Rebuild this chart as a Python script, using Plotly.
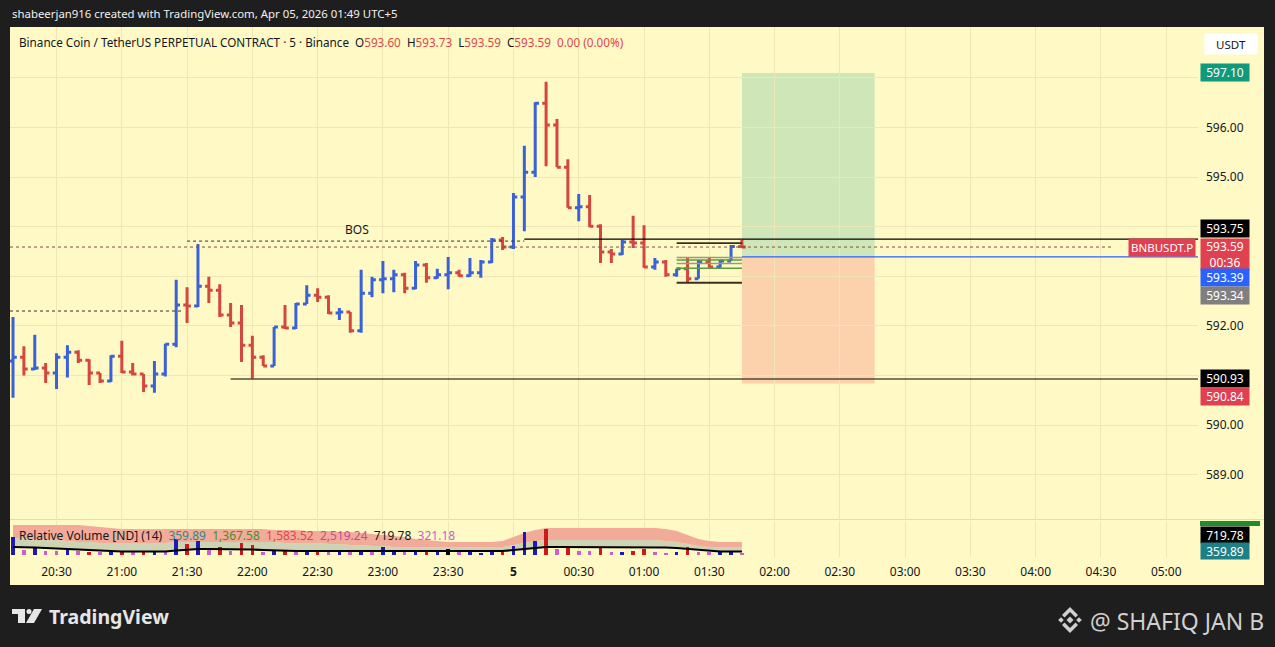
import plotly.graph_objects as go
import pandas as pd

# ---------------- data ----------------
bar_start = "2026-04-04 20:10"
n_bars = 68
times = pd.date_range(bar_start, periods=n_bars, freq="5min")

opens = [591.29, 591.37, 591.13, 591.15, 591.05, 591.37, 591.47, 591.31, 591.05, 590.89,
         591.39, 591.07, 591.03, 590.79, 591.03, 591.63, 592.42, 592.40, 592.80, 592.72,
         592.22, 592.06, 591.61, 591.37, 591.19, 591.98, 591.96, 592.44, 592.62, 592.58,
         592.26, 592.28, 591.90, 592.66, 592.93, 592.95, 593.03, 592.76, 593.23, 592.97,
         593.03, 593.07, 593.01, 593.07, 593.29, 593.73, 593.59, 594.60, 595.10, 596.49,
         596.05, 595.20, 594.38, 594.40, 594.01, 593.49, 593.45, 593.69, 593.67, 593.19,
         593.29, 593.03, 593.15, 592.95, 593.29, 593.19, 593.31, 593.60]
highs = [592.18, 591.59, 591.82, 591.25, 591.45, 591.61, 591.51, 591.33, 591.05, 591.41,
         591.70, 591.25, 591.03, 591.29, 591.64, 592.93, 592.78, 593.65, 592.99, 592.84,
         592.46, 592.42, 591.80, 591.41, 591.98, 592.42, 592.46, 592.82, 592.76, 592.62,
         592.36, 592.28, 593.13, 592.99, 593.31, 593.13, 593.07, 593.31, 593.27, 593.15,
         593.39, 593.13, 593.37, 593.33, 593.77, 593.79, 594.68, 595.63, 596.51, 596.92,
         596.17, 595.36, 594.66, 594.64, 594.05, 593.55, 593.73, 594.22, 594.03, 593.37,
         593.33, 593.15, 593.37, 593.33, 593.37, 593.33, 593.63, 593.73]
lows = [590.55, 591.00, 591.11, 590.85, 590.73, 590.96, 591.25, 590.81, 590.85, 590.87,
        591.05, 591.00, 590.67, 590.65, 590.98, 591.57, 592.06, 592.38, 592.46, 592.18,
        591.98, 591.27, 590.94, 591.19, 591.19, 591.94, 591.94, 592.44, 592.48, 592.24,
        592.12, 591.86, 591.86, 592.58, 592.66, 592.68, 592.66, 592.74, 592.87, 592.95,
        592.74, 592.99, 592.99, 592.97, 593.27, 593.53, 593.55, 593.91, 595.00, 595.22,
        595.20, 594.38, 594.11, 593.99, 593.27, 593.27, 593.43, 593.57, 593.17, 593.13,
        592.99, 592.99, 592.87, 592.95, 593.17, 593.17, 593.31, 593.59]
closes = [591.37, 591.13, 591.15, 591.05, 591.37, 591.47, 591.31, 591.05, 590.89, 591.39,
          591.07, 591.03, 590.79, 591.03, 591.63, 592.42, 592.40, 592.80, 592.72, 592.22,
          592.06, 591.61, 591.37, 591.19, 591.98, 591.96, 592.44, 592.62, 592.58, 592.26,
          592.28, 591.90, 592.66, 592.93, 592.95, 593.03, 592.76, 593.23, 592.97, 593.03,
          593.07, 593.01, 593.07, 593.29, 593.73, 593.59, 594.60, 595.10, 596.49, 596.05,
          595.20, 594.38, 594.40, 594.01, 593.49, 593.45, 593.69, 593.67, 593.19, 593.29,
          593.03, 593.15, 592.95, 593.29, 593.19, 593.31, 593.60, 593.59]

# Relative volume pane (estimated)
rel_volume = [720, 200, 280, 160, 160, 240, 160, 120, 120, 120,
              160, 120, 160, 160, 120, 640, 440, 560, 200, 320,
              160, 480, 400, 120, 160, 160, 120, 160, 200, 120,
              120, 120, 200, 120, 320, 160, 120, 160, 120, 160,
              240, 120, 120, 80, 160, 120, 360, 920, 560, 1040,
              240, 280, 160, 160, 280, 120, 120, 160, 240, 120,
              80, 120, 320, 120, 120, 160, 160, 80]
vol_class = ["b", "m", "b", "m", "m", "b", "m", "r", "m", "b",
             "r", "m", "r", "b", "m", "b", "r", "b", "m", "r",
             "m", "r", "r", "m", "b", "r", "m", "b", "r", "m",
             "b", "m", "b", "m", "b", "b", "m", "b", "r", "b",
             "k", "m", "b", "b", "b", "r", "b", "b", "b", "r",
             "m", "r", "m", "m", "r", "m", "b", "r", "r", "m",
             "m", "b", "r", "m", "m", "b", "b", "m"]
vol_avg = [320, 320, 300, 280, 260, 240, 200, 180, 160, 160,
           140, 140, 140, 140, 140, 180, 220, 240, 240, 240,
           240, 240, 220, 200, 180, 160, 160, 160, 160, 160,
           160, 160, 160, 160, 160, 160, 160, 160, 160, 160,
           160, 160, 160, 160, 160, 160, 200, 240, 280, 320,
           320, 320, 320, 320, 320, 320, 320, 320, 320, 320,
           300, 280, 240, 200, 160, 140, 140, 140]
vol_band1 = [680, 680, 640, 640, 600, 560, 520, 520, 480, 480,
             480, 480, 480, 480, 480, 520, 520, 520, 520, 520,
             520, 520, 520, 520, 520, 480, 480, 480, 480, 440,
             440, 400, 400, 360, 360, 320, 320, 320, 320, 320,
             320, 320, 320, 320, 320, 320, 400, 480, 560, 600,
             600, 600, 600, 600, 600, 600, 600, 600, 600, 600,
             560, 520, 440, 360, 320, 320, 320, 320]
vol_band2 = [1200, 1200, 1200, 1200, 1200, 1200, 1200, 1160, 1120, 1080,
             1040, 1040, 1040, 1040, 1040, 1040, 1040, 1040, 1040, 1040,
             1040, 1040, 1040, 1040, 1000, 1000, 1000, 960, 960, 960,
             920, 920, 880, 840, 800, 760, 720, 640, 600, 560,
             520, 520, 520, 520, 520, 560, 720, 880, 1000, 1080,
             1080, 1080, 1080, 1080, 1080, 1080, 1080, 1080, 1080, 1080,
             1040, 960, 800, 640, 560, 520, 520, 520]

# drawn levels
bos_level = 593.71
prev_high_level = 592.30
resist_level = 593.75
support_level = 590.93
entry_level = 593.39
target_level = 597.10
stop_level = 590.84
last_price = 593.59
range_box = [593.67, 592.87]
fib_levels = [593.38, 593.33, 593.26, 593.16]

price_ticks = [589, 590, 591, 592, 593, 594, 595, 596, 597]
price_tick_text = ["589.00", "590.00", "", "592.00", "", "", "595.00", "596.00", ""]
time_ticks = pd.date_range("2026-04-04 20:30", "2026-04-05 05:00", freq="30min")
time_tick_text = [("<b>5</b>" if (t.hour == 0 and t.minute == 0) else t.strftime("%H:%M")) for t in time_ticks]

x_range = [pd.Timestamp("2026-04-04 20:08:37"), pd.Timestamp("2026-04-05 05:14:36")]
y_range = [588.087, 598.026]
v_range = [-80, 1360]

# ---------------- styles ----------------
BG = "#fff9c6"
GRID = "#efe7b6"
DARK = "#1e1e1e"
BLUE = "#3a62d6"
RED = "#d4473f"
TXT = "#131722"
FONT = "Noto Sans"
W, H = 1275, 647
PX_L, PX_R, PX_T, PX_B = 10, 1198, 27, 557


def fx(px):
    return (px - PX_L) / (PX_R - PX_L)


def fy(py):
    return (PX_B - py) / (PX_B - PX_T)


def ppath(pts):
    return "M " + " L ".join(f"{fx(a):.5f} {fy(b):.5f}" for a, b in pts) + " Z"


up = [i == 0 or closes[i] >= closes[i - 1] for i in range(n_bars)]

fig = go.Figure()

for flag, col in ((True, BLUE), (False, RED)):
    idx = [i for i in range(n_bars) if up[i] == flag]
    fig.add_trace(go.Ohlc(
        x=[times[i] for i in idx],
        open=[opens[i] for i in idx], high=[highs[i] for i in idx],
        low=[lows[i] for i in idx], close=[closes[i] for i in idx],
        increasing=dict(line=dict(color=col, width=3)),
        decreasing=dict(line=dict(color=col, width=3)),
        tickwidth=0.35, xaxis="x", yaxis="y", showlegend=False, hoverinfo="skip"))

# volume bands (base subplot)
fig.add_trace(go.Scatter(x=times, y=vol_avg, mode="lines", line=dict(width=0, color="rgba(0,0,0,0)"),
                         xaxis="x", yaxis="y2", showlegend=False, hoverinfo="skip"))
fig.add_trace(go.Scatter(x=times, y=vol_band1, mode="lines", line=dict(width=0, color="rgba(0,0,0,0)"),
                         fill="tonexty", fillcolor="#cdd3b3", xaxis="x", yaxis="y2",
                         showlegend=False, hoverinfo="skip"))
fig.add_trace(go.Scatter(x=times, y=vol_band2, mode="lines", line=dict(width=0, color="rgba(0,0,0,0)"),
                         fill="tonexty", fillcolor="#f2ab98", xaxis="x", yaxis="y2",
                         showlegend=False, hoverinfo="skip"))

vcol = {"b": "#1a1ab8", "r": "#cc1a1a", "m": "#cc5fcc", "k": "#000000"}
fig.add_trace(go.Bar(x=times, y=rel_volume, marker=dict(color=[vcol[c] for c in vol_class], line=dict(width=0)),
                     width=100000, xaxis="x", yaxis="y3", showlegend=False, hoverinfo="skip"))
fig.add_trace(go.Scatter(x=times, y=vol_avg, mode="lines", line=dict(width=2.2, color="#000000"),
                         xaxis="x", yaxis="y3", showlegend=False, hoverinfo="skip"))

shapes = []
# panel background
shapes.append(dict(type="rect", xref="paper", yref="paper", x0=fx(10), x1=fx(1264), y0=fy(585), y1=fy(27),
                   fillcolor=BG, line=dict(width=0), layer="below"))
# pane separator
shapes.append(dict(type="line", xref="paper", yref="paper", x0=fx(10), x1=fx(1264), y0=fy(519.5), y1=fy(519.5),
                   line=dict(color="#e6dda6", width=1), layer="below"))

t_end = x_range[1]
t_entry = pd.Timestamp("2026-04-05 01:45")
t_box_end = pd.Timestamp("2026-04-05 02:46")
t_box0 = pd.Timestamp("2026-04-05 01:15")

# position tool
shapes.append(dict(type="rect", xref="x", yref="y", x0=t_entry, x1=t_box_end, y0=entry_level, y1=target_level,
                   fillcolor="rgba(8,153,129,0.2)", line=dict(width=0), layer="below"))
shapes.append(dict(type="rect", xref="x", yref="y", x0=t_entry, x1=t_box_end, y0=stop_level, y1=entry_level,
                   fillcolor="rgba(242,54,69,0.2)", line=dict(width=0), layer="below"))

# levels
shapes.append(dict(type="line", xref="x", yref="y", x0=x_range[0], x1=pd.Timestamp("2026-04-04 21:28"),
                   y0=prev_high_level, y1=prev_high_level, line=dict(color="#333333", width=1, dash="dot")))
shapes.append(dict(type="line", xref="x", yref="y", x0=pd.Timestamp("2026-04-04 21:30"), x1=pd.Timestamp("2026-04-05 00:05"),
                   y0=bos_level, y1=bos_level, line=dict(color="#333333", width=1, dash="dot")))
shapes.append(dict(type="line", xref="x", yref="y", x0=x_range[0], x1=pd.Timestamp("2026-04-05 04:35"),
                   y0=last_price, y1=last_price, line=dict(color="#7a5050", width=1, dash="dot")))
shapes.append(dict(type="line", xref="x", yref="y", x0=pd.Timestamp("2026-04-05 00:05"), x1=t_end,
                   y0=resist_level, y1=resist_level, line=dict(color="#000000", width=1.2)))
shapes.append(dict(type="line", xref="x", yref="y", x0=pd.Timestamp("2026-04-04 21:50"), x1=t_end,
                   y0=support_level, y1=support_level, line=dict(color="#000000", width=1.2)))
shapes.append(dict(type="line", xref="x", yref="y", x0=t_entry, x1=t_end,
                   y0=entry_level, y1=entry_level, line=dict(color="#2962ff", width=1.2)))
for lv in range_box:
    shapes.append(dict(type="line", xref="x", yref="y", x0=t_box0, x1=t_entry, y0=lv, y1=lv,
                       line=dict(color="#3a3020", width=1.8)))
for k, lv in enumerate(fib_levels):
    shapes.append(dict(type="line", xref="x", yref="y", x0=t_box0, x1=t_entry, y0=lv, y1=lv,
                       line=dict(color=("#5d9b3c" if k % 2 else "#8fa07a"), width=1.5)))

# volume axis green stub
shapes.append(dict(type="rect", xref="paper", yref="paper", x0=fx(1200), x1=fx(1260), y0=fy(526), y1=fy(521),
                   fillcolor="#1f8c2e", line=dict(width=0)))

# TradingView logo
LOGO = "#e6e6e6"
shapes.append(dict(type="path", xref="paper", yref="paper",
                   path=ppath([(12, 609), (25, 609), (25, 623), (18, 623), (18, 614), (12, 614)]),
                   fillcolor=LOGO, line=dict(width=0)))
shapes.append(dict(type="circle", xref="paper", yref="paper", x0=fx(26.5), x1=fx(31.5), y0=fy(614), y1=fy(609),
                   fillcolor=LOGO, line=dict(width=0)))
shapes.append(dict(type="path", xref="paper", yref="paper",
                   path=ppath([(34, 609), (42, 609), (34, 623), (26, 623)]),
                   fillcolor=LOGO, line=dict(width=0)))
# Binance icon
BN = "#d0d0d0"
cx, cy = 1070, 620


def diamond(x0, y0, r):
    return ppath([(x0, y0 - r), (x0 + r, y0), (x0, y0 + r), (x0 - r, y0)])


for (ddx, rr) in ((0, 3.5), (-9, 2.8), (9, 2.8)):
    shapes.append(dict(type="path", xref="paper", yref="paper", path=diamond(cx + ddx, cy, rr),
                       fillcolor=BN, line=dict(width=0)))
shapes.append(dict(type="path", xref="paper", yref="paper",
                   path=ppath([(cx, cy - 13), (cx + 8, cy - 5), (cx + 5.5, cy - 2.5), (cx, cy - 8), (cx - 5.5, cy - 2.5), (cx - 8, cy - 5)]),
                   fillcolor=BN, line=dict(width=0)))
shapes.append(dict(type="path", xref="paper", yref="paper",
                   path=ppath([(cx, cy + 13), (cx + 8, cy + 5), (cx + 5.5, cy + 2.5), (cx, cy + 8), (cx - 5.5, cy + 2.5), (cx - 8, cy + 5)]),
                   fillcolor=BN, line=dict(width=0)))

ann = []
# header
ann.append(dict(xref="paper", yref="paper", x=fx(10), y=fy(13), xanchor="left", yanchor="middle", showarrow=False,
                text="shabeerjan916 created with TradingView.com, Apr 05, 2026 01:49 UTC+5",
                font=dict(family=FONT, size=11.4, color="#f0f0f0")))
R = "#e0454b"
ann.append(dict(xref="paper", yref="paper", x=fx(17), y=fy(42), xanchor="left", yanchor="middle", showarrow=False,
                text=("Binance Coin / TetherUS PERPETUAL CONTRACT · 5 · Binance  "
                      f"O<span style='color:{R}'>593.60</span>  H<span style='color:{R}'>593.73</span>  "
                      f"L<span style='color:{R}'>593.59</span>  C<span style='color:{R}'>593.59</span>  "
                      f"<span style='color:{R}'>0.00 (0.00%)</span>"),
                font=dict(family=FONT, size=11.7, color=TXT)))
ann.append(dict(xref="x", yref="y", x=pd.Timestamp("2026-04-04 22:48"), y=bos_level, yshift=12, showarrow=False,
                text="BOS", font=dict(family=FONT, size=12, color=TXT)))
ann.append(dict(xref="paper", yref="paper", x=fx(17), y=fy(535), xanchor="left", yanchor="middle", showarrow=False,
                text=("Relative Volume [ND] (14)  <span style='color:#2a8a8a'>359.89</span>  "
                      "<span style='color:#4f8a2a'>1,367.58</span>  <span style='color:#e0454b'>1,583.52</span>  "
                      "<span style='color:#c8489c'>2,519.24</span>  <span style='color:#131722'>719.78</span>  "
                      "<span style='color:#c860c8'>321.18</span>"),
                font=dict(family=FONT, size=12, color=TXT)))


# axis labels
def plabel(price, text, bg, yshift=0, h=13, fc="#ffffff"):
    ann.append(dict(xref="paper", yref="y", x=fx(1200), y=price, yshift=yshift, xanchor="left", yanchor="middle",
                    showarrow=False, text=text, bgcolor=bg, width=44, height=h, borderpad=2, align="center",
                    font=dict(family=FONT, size=12, color=fc)))


plabel(target_level, "597.10", "#0f9a7c")
plabel(resist_level, "593.75", "#000000", yshift=11)
plabel(last_price, "593.59<br>00:36", "#e0404f", yshift=-7.5, h=27)
plabel(entry_level, "593.39", "#2962ff", yshift=-21)
plabel(593.34, "593.34", "#7f7f7f", yshift=-36)
plabel(support_level, "590.93", "#000000")
plabel(stop_level, "590.84", "#e0404f", yshift=-13.5)
ann.append(dict(xref="paper", yref="y", x=fx(1196), y=last_price, xanchor="right", yanchor="middle", showarrow=False,
                text="BNBUSDT.P", bgcolor="#e0404f", borderpad=2, height=13,
                font=dict(family=FONT, size=11.5, color="#ffffff")))
ann.append(dict(xref="paper", yref="paper", x=fx(1231), y=fy(44), xanchor="center", yanchor="middle", showarrow=False,
                text="USDT", bgcolor="#ffffff", width=50, height=18, borderpad=1,
                font=dict(family=FONT, size=11.5, color=TXT)))
for yy, txt, bg in ((535, "719.78", "#000000"), (551, "359.89", "#1f7f86")):
    ann.append(dict(xref="paper", yref="paper", x=fx(1200), y=fy(yy), xanchor="left", yanchor="middle",
                    showarrow=False, text=txt, bgcolor=bg, width=44, height=12, borderpad=2,
                    font=dict(family=FONT, size=12, color="#ffffff")))
# footer
ann.append(dict(xref="paper", yref="paper", x=fx(47), y=fy(616), xanchor="left", yanchor="middle", showarrow=False,
                text="<b>TradingView</b>", font=dict(family=FONT, size=19.5, color="#e6e6e6")))
ann.append(dict(xref="paper", yref="paper", x=fx(1266), y=fy(621), xanchor="right", yanchor="middle", showarrow=False,
                text="@ SHAFIQ JAN B", font=dict(family=FONT, size=23, color="#d0d0d0")))

fig.update_layout(
    width=W, height=H,
    margin=dict(l=PX_L, r=W - PX_R, t=PX_T, b=H - PX_B),
    paper_bgcolor=DARK, plot_bgcolor=BG,
    showlegend=False, bargap=0,
    xaxis=dict(type="date", range=x_range, anchor="y2", tickvals=time_ticks, ticktext=time_tick_text,
               showgrid=True, gridcolor=GRID, gridwidth=1, zeroline=False, showline=False, ticks="",
               ticklabelstandoff=6, tickfont=dict(family=FONT, size=12, color=TXT), rangeslider=dict(visible=False),
               fixedrange=True),
    yaxis=dict(domain=[fy(520), 1], range=y_range, side="right", anchor="x", tickvals=price_ticks,
               ticktext=price_tick_text, showgrid=True, gridcolor=GRID, zeroline=False, showline=False,
               ticks="", ticklabelstandoff=7, tickfont=dict(family=FONT, size=12, color=TXT)),
    yaxis2=dict(domain=[0, fy(521)], range=v_range, anchor="x", showgrid=False, zeroline=False,
                showticklabels=False, ticks=""),
    yaxis3=dict(range=v_range, overlaying="y2", anchor="x", showgrid=False, zeroline=False,
                showticklabels=False, ticks=""),
    shapes=shapes, annotations=ann,
)

fig.write_html("out.html", config={"displayModeBar": False},
               post_script="document.body.style.margin='0';document.body.style.background='#1e1e1e';")
